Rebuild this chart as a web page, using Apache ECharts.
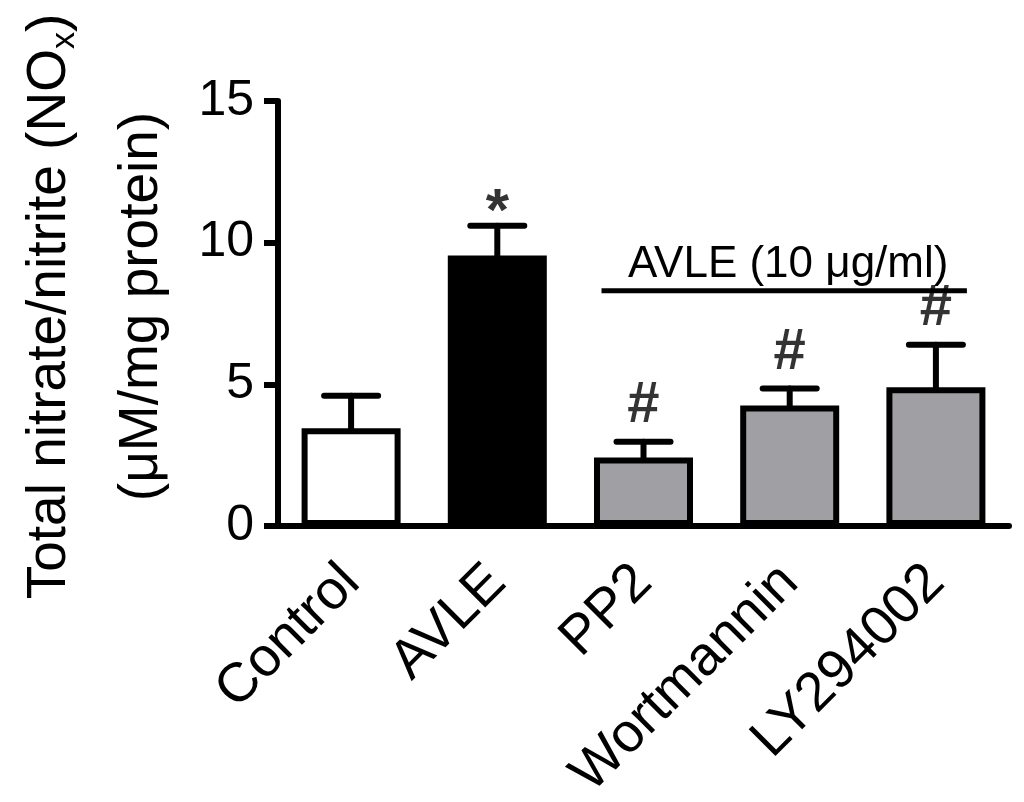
<!DOCTYPE html>
<html>
<head>
<meta charset="utf-8">
<script src="https://cdn.jsdelivr.net/npm/echarts@6/dist/echarts.min.js"></script>
<style>
  html, body { margin: 0; padding: 0; background: #fff; }
  #main { width: 1024px; height: 802px; }
</style>
</head>
<body>
<div id="main"></div>
<script>
// data
var categories = ['Control', 'AVLE', 'PP2', 'Wortmannin', 'LY294002'];
var means = [3.45, 9.55, 2.42, 4.25, 4.9];
var sds = [1.15, 1.05, 0.55, 0.6, 1.5];
var sigLabels = ['', '*', '#', '#', '#'];
var barColors = ['#ffffff', '#000000', '#a09fa4', '#a09fa4', '#a09fa4'];
var yTicks = [0, 5, 10, 15];
var bracket = [[2, 4, 8.3]]; // from PP2 to LY294002 at y = 8.3
var bracketText = 'AVLE (10 μg/ml)';

var font = "'Liberation Sans', Arial, sans-serif";
var chart = echarts.init(document.getElementById('main'));

var barData = means.map(function (v, i) {
  return { value: v, itemStyle: { color: barColors[i] } };
});
var errData = means.map(function (v, i) { return [i, v, v + sds[i]]; });
// star and hash marks get slightly different size/offset
var sigData = means.map(function (v, i) {
  var star = sigLabels[i] === '*';
  return {
    value: [i, v + sds[i], sigLabels[i]],
    label: star ? { fontSize: 60, distance: -18 } : { fontSize: 58, distance: 7 }
  };
});

var option = {
  animation: false,
  backgroundColor: '#fff',
  grid: { left: 278, right: 15, top: 101, bottom: 276, containLabel: false, outerBoundsMode: 'none' },
  xAxis: {
    type: 'category',
    data: categories,
    axisLine: { lineStyle: { color: '#000', width: 6 } },
    axisTick: { alignWithLabel: true, length: 14, lineStyle: { color: '#000', width: 6 } },
    axisLabel: { rotate: 45, margin: 48, color: '#000', fontSize: 55, fontFamily: font, interval: 0 }
  },
  yAxis: {
    type: 'value',
    min: yTicks[0],
    max: yTicks[yTicks.length - 1],
    interval: 5,
    name: '{a|Total nitrate/nitrite (NO}{s|x}{a|)}\n{a|(μM/mg protein)}',
    nameLocation: 'middle',
    nameRotate: 90,
    nameGap: 86,
    nameTextStyle: {
      color: '#000',
      fontFamily: font,
      fontSize: 55,
      lineHeight: 92,
      padding: [0, 0, 0, 14],
      rich: {
        a: { fontSize: 55, fontFamily: font, color: '#000', lineHeight: 92 },
        s: { fontSize: 34, fontFamily: font, color: '#000', lineHeight: 34, verticalAlign: 'bottom', padding: [0, 0, 14, 0] }
      }
    },
    splitLine: { show: false },
    axisLine: { show: true, lineStyle: { color: '#000', width: 6 } },
    axisTick: { show: true, length: 14, lineStyle: { color: '#000', width: 6 } },
    axisLabel: { margin: 24, color: '#000', fontSize: 50, fontFamily: font }
  },
  series: [
    {
      name: 'NOx',
      type: 'bar',
      data: barData,
      barWidth: 99,
      itemStyle: { borderColor: '#000', borderWidth: 6 },
      z: 2
    },
    {
      name: 'SEM',
      type: 'custom',
      data: errData,
      z: 1,
      renderItem: function (params, api) {
        var x = api.coord([api.value(0), api.value(1)])[0];
        var y0 = api.coord([api.value(0), api.value(1)])[1];
        var y1 = api.coord([api.value(0), api.value(2)])[1];
        var st = { stroke: '#000', lineWidth: 6, lineCap: 'round' };
        return {
          type: 'group',
          children: [
            { type: 'line', shape: { x1: x, y1: y0, x2: x, y2: y1 }, style: st },
            { type: 'line', shape: { x1: x - 27, y1: y1, x2: x + 27, y2: y1 }, style: st }
          ]
        };
      }
    },
    {
      name: 'sig',
      type: 'scatter',
      data: sigData,
      symbolSize: 0,
      silent: true,
      label: {
        show: true,
        position: 'top',
        color: '#000',
        fontWeight: 'bold',
        fontFamily: font,
        formatter: function (p) { return p.value[2]; }
      }
    },
    {
      name: 'bracket',
      type: 'custom',
      data: bracket,
      silent: true,
      renderItem: function (params, api) {
        var a = api.coord([api.value(0), api.value(2)]);
        var b = api.coord([api.value(1), api.value(2)]);
        var x1 = a[0] - 42, x2 = b[0] + 31;
        return {
          type: 'group',
          children: [
            { type: 'line', shape: { x1: x1, y1: a[1], x2: x2, y2: a[1] }, style: { stroke: '#000', lineWidth: 5 } },
            {
              type: 'text',
              style: {
                text: bracketText, x: (x1 + x2) / 2 + 4, y: a[1] - 4,
                fill: '#000', font: '44px ' + font, textAlign: 'center', textVerticalAlign: 'bottom'
              }
            }
          ]
        };
      }
    }
  ]
};
chart.setOption(option);
</script>
</body>
</html>
